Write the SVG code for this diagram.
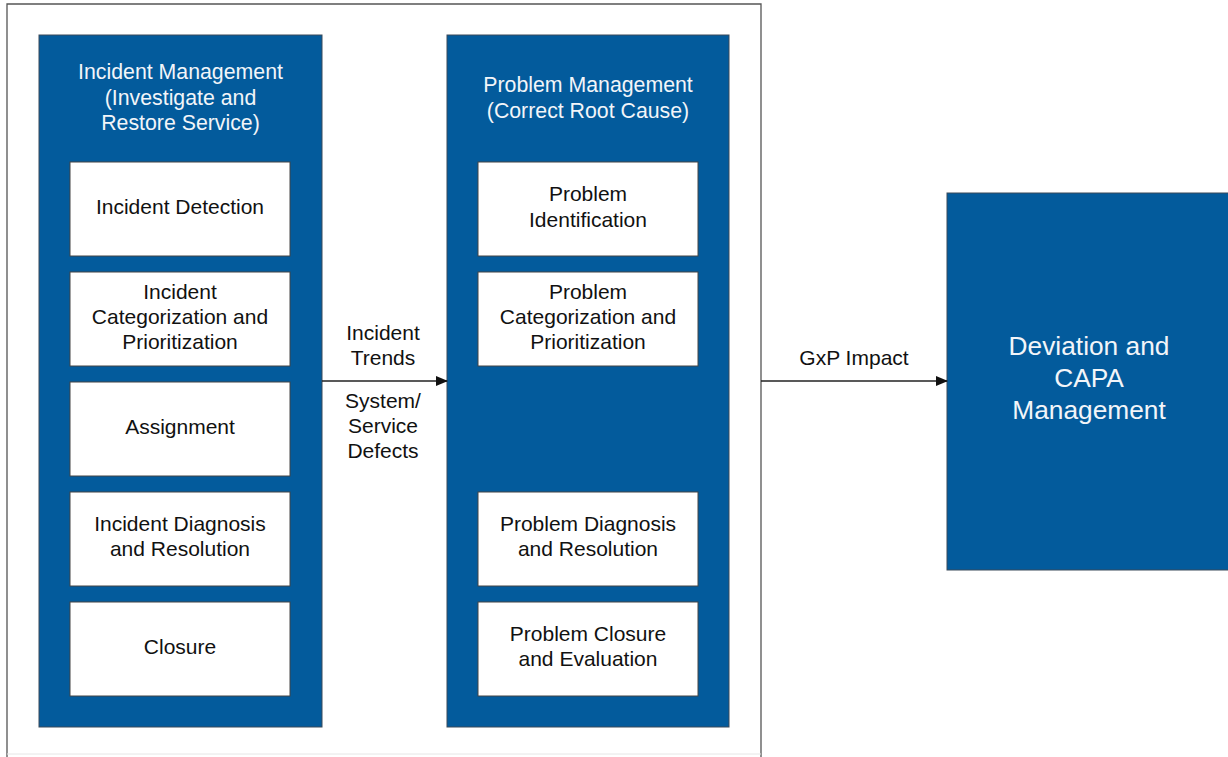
<svg xmlns="http://www.w3.org/2000/svg" width="1228" height="757" viewBox="0 0 1228 757">
<defs>
<style>
.panel{fill:#035b9c;stroke:#3a4a5a;stroke-width:1}
.box{fill:#ffffff;stroke:#444;stroke-width:1}
.t{font-family:"Liberation Sans",Arial,sans-serif;font-size:21px;fill:#111;text-anchor:middle}
.w{font-family:"Liberation Sans",Arial,sans-serif;font-size:21.3px;fill:#f2f5f9;text-anchor:middle}
.big{font-family:"Liberation Sans",Arial,sans-serif;font-size:26.3px;fill:#f2f5f9;text-anchor:middle}
.line{stroke:#222;stroke-width:1.3;fill:none}
</style>
<marker id="arr" markerWidth="12" markerHeight="10" refX="11" refY="5" orient="auto" markerUnits="userSpaceOnUse">
<path d="M0,0 L12,5 L0,10 Z" fill="#111"/>
</marker>
</defs>
<rect width="1228" height="757" fill="#ffffff"/>
<g id="outer">
<path d="M7,757 L7,4 L761,4 L761,757" fill="none" stroke="#555" stroke-width="1.3"/>
<line x1="7" y1="754" x2="761" y2="754" stroke="#e6e6e6" stroke-width="1"/>
</g>
<g id="incident-management">
<rect class="panel" x="39" y="35" width="283" height="692"/>
<text class="w" x="180.5" y="79">Incident Management</text>
<text class="w" x="180.5" y="105">(Investigate and</text>
<text class="w" x="180.5" y="130">Restore Service)</text>
</g>
<g id="incident-detection">
<rect class="box" x="70" y="162" width="220" height="94"/>
<text class="t" x="180" y="214">Incident Detection</text>
</g>
<g id="incident-categorization">
<rect class="box" x="70" y="272" width="220" height="94"/>
<text class="t" x="180" y="299">Incident</text>
<text class="t" x="180" y="324">Categorization and</text>
<text class="t" x="180" y="349">Prioritization</text>
</g>
<g id="assignment">
<rect class="box" x="70" y="382" width="220" height="94"/>
<text class="t" x="180" y="434">Assignment</text>
</g>
<g id="incident-diagnosis">
<rect class="box" x="70" y="492" width="220" height="94"/>
<text class="t" x="180" y="531">Incident Diagnosis</text>
<text class="t" x="180" y="556">and Resolution</text>
</g>
<g id="closure">
<rect class="box" x="70" y="602" width="220" height="94"/>
<text class="t" x="180" y="654">Closure</text>
</g>
<g id="problem-management">
<rect class="panel" x="447" y="35" width="282" height="692"/>
<text class="w" x="588" y="92">Problem Management</text>
<text class="w" x="588" y="118">(Correct Root Cause)</text>
</g>
<g id="problem-identification">
<rect class="box" x="478" y="162" width="220" height="94"/>
<text class="t" x="588" y="201">Problem</text>
<text class="t" x="588" y="227">Identification</text>
</g>
<g id="problem-categorization">
<rect class="box" x="478" y="272" width="220" height="94"/>
<text class="t" x="588" y="299">Problem</text>
<text class="t" x="588" y="324">Categorization and</text>
<text class="t" x="588" y="349">Prioritization</text>
</g>
<g id="problem-diagnosis">
<rect class="box" x="478" y="492" width="220" height="94"/>
<text class="t" x="588" y="531">Problem Diagnosis</text>
<text class="t" x="588" y="556">and Resolution</text>
</g>
<g id="problem-closure">
<rect class="box" x="478" y="602" width="220" height="94"/>
<text class="t" x="588" y="641">Problem Closure</text>
<text class="t" x="588" y="666">and Evaluation</text>
</g>
<g id="deviation-capa">
<rect class="panel" x="947" y="193" width="290" height="377"/>
<text class="big" x="1089" y="355">Deviation and</text>
<text class="big" x="1089" y="387">CAPA</text>
<text class="big" x="1089" y="419">Management</text>
</g>
<g id="connectors">
<line class="line" x1="322" y1="381" x2="447" y2="381" marker-end="url(#arr)"/>
<text class="t" x="383" y="340">Incident</text>
<text class="t" x="383" y="365">Trends</text>
<text class="t" x="383" y="408">System/</text>
<text class="t" x="383" y="433">Service</text>
<text class="t" x="383" y="458">Defects</text>
<line class="line" x1="761" y1="381" x2="947" y2="381" marker-end="url(#arr)"/>
<text class="t" x="854" y="365">GxP Impact</text>
</g>
</svg>
